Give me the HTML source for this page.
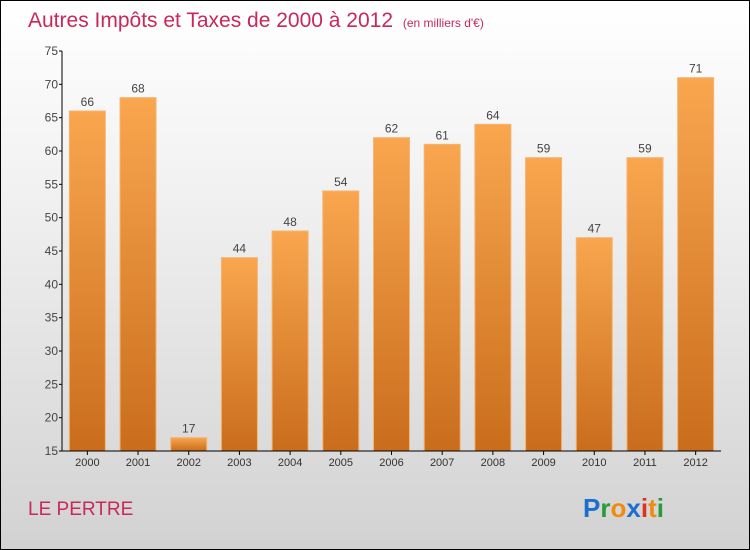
<!DOCTYPE html>
<html><head><meta charset="utf-8"><style>
body{margin:0}
#c{width:748px;height:548px;border:1px solid #000;position:relative;background:linear-gradient(#ffffff,#f3f3f3 30%,#d2d2d2);font-family:"Liberation Sans",sans-serif;overflow:hidden}
</style></head><body>
<div id="c">
<svg id="s" width="748" height="548" xmlns="http://www.w3.org/2000/svg">
<defs><linearGradient id="g" x1="0" y1="0" x2="0" y2="1"><stop offset="0" stop-color="#f9a64f"/><stop offset="1" stop-color="#c96d1c"/></linearGradient></defs>
<text x="27" y="26" font-size="21" fill="#c8285a">Autres Impôts et Taxes de 2000 à 2012 <tspan font-size="12" dx="4">(en milliers d'€)</tspan></text>
<text x="27" y="514" font-size="19" fill="#c8285a">LE PERTRE</text>
<g font-size="26" font-weight="bold">
<text x="582" y="516" fill="#1a6fd0">P<tspan fill="#2a9a3a">r</tspan><tspan fill="#f08a10">o</tspan><tspan fill="#1a6fd0">x</tspan><tspan fill="#e03020">i</tspan><tspan fill="#f08a10">t</tspan><tspan fill="#2a9a3a">i</tspan></text>
</g>
<g id="plot"></g>
</svg>
</div>
<script>
const categories=["2000","2001","2002","2003","2004","2005","2006","2007","2008","2009","2010","2011","2012"];
const values=[66,68,17,44,48,54,62,61,64,59,47,59,71];
const yTicks=[15,20,25,30,35,40,45,50,55,60,65,70,75];
const NS="http://www.w3.org/2000/svg";
const plotG=document.getElementById('plot');
const yMin=15,yMax=75,yTop=50,yBot=450,xLeft=61,xRight=720;
const yS=v=>yBot-(v-yMin)/(yMax-yMin)*(yBot-yTop);
const step=(xRight-xLeft)/categories.length;
const xc=i=>xLeft+step*(i+0.5);
function mk(t,a){const e=document.createElementNS(NS,t);for(const k in a)e.setAttribute(k,a[k]);plotG.appendChild(e);return e;}
values.forEach((v,i)=>{
 const r=mk('rect',{x:xc(i)-18,y:yS(v),width:36,height:yBot-yS(v),fill:'url(#g)',stroke:'#f6b470','stroke-width':1});
 
 
 const t=mk('text',{x:xc(i),y:yS(v)-5,'font-size':12,fill:'#444','text-anchor':'middle'});
 t.textContent=v;
 
 
 const xl=mk('text',{x:xc(i),y:yBot+15,'font-size':11,fill:'#333','text-anchor':'middle'});
 xl.textContent=categories[i];
 
 
 mk('line',{x1:xc(i),x2:xc(i),y1:yBot,y2:yBot+4,stroke:'#000'});
});
yTicks.forEach(v=>{
 mk('line',{x1:xLeft-3,x2:xLeft,y1:yS(v),y2:yS(v),stroke:'#000'});
 const t=mk('text',{x:xLeft-4,y:yS(v)+4,'font-size':12,fill:'#444','text-anchor':'end'});
 t.textContent=v;
 
 
});
const ya=mk('line',{x1:xLeft,x2:xLeft,y1:yTop,y2:yBot,stroke:'#000'});


const xa=mk('line',{x1:xLeft,x2:xRight,y1:yBot,y2:yBot,stroke:'#000'});


</script>
</body></html>
